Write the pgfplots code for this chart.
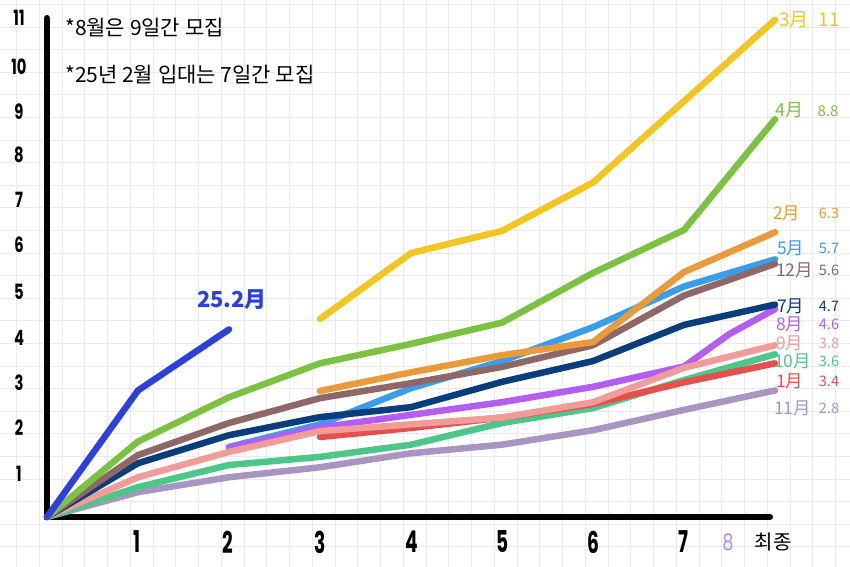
\documentclass[border=0pt]{standalone}
\usepackage{fontspec}
\setmainfont{Noto Sans CJK KR}
\newfontfamily\kr{Noto Sans CJK KR}
\newfontfamily\hand{Poppins}
\usepackage{graphicx}
\usepackage{pgfplots}
\pgfplotsset{compat=1.18}
\definecolor{cYellow}{HTML}{F2C520}
\definecolor{cGreen}{HTML}{7CC242}
\definecolor{cOrange}{HTML}{EA9A3A}
\definecolor{cLBlue}{HTML}{3A9DEA}
\definecolor{cBrown}{HTML}{8E6767}
\definecolor{cNavy}{HTML}{0A3D7C}
\definecolor{cPurple}{HTML}{B55CF2}
\definecolor{cPink}{HTML}{F29C9A}
\definecolor{cRed}{HTML}{E84E4B}
\definecolor{cTeal}{HTML}{4DC68A}
\definecolor{cLilac}{HTML}{A995C2}
\definecolor{cBlue}{HTML}{2E3FE0}
\definecolor{cLight8}{HTML}{B58AE8}
\newcommand\px[2]{([xshift=#1pt,yshift=-#2pt]ax.north west)}
\begin{document}
\begin{tikzpicture}
\begin{axis}[name=ax, width=850pt, height=567pt, scale only axis,
  xmin=-0.5165, xmax=8.824, ymin=-1.106, ymax=11.438,
  axis line style={draw=none}, major tick length=0pt,
  xtick={-0.335,-0.085,...,8.8}, ytick={-0.66,-0.16,...,11.4},
  xticklabels={}, yticklabels={},
  grid=major, grid style={draw=black!8, line width=0.9pt},
  clip=false,
  every axis plot/.append style={line width=6.5pt, line cap=round, line join=round, no markers}]
\draw[line width=6pt, line cap=round, line join=miter] (axis cs:0,11.04) -- (axis cs:0,0) -- (axis cs:7.945,0);
% 5월
\addplot[cLBlue] coordinates {(2,1.55) (3,2.05) (4,2.85) (5,3.45) (6,4.2) (7,5.1) (8,5.7)};
% 11월
\addplot[cLilac] coordinates {(0,0) (1,0.55) (2,0.88) (3,1.1) (4,1.41) (5,1.6) (6,1.92) (7,2.37) (8,2.8)};
% 10월
\addplot[cTeal] coordinates {(0,0) (1,0.66) (2,1.15) (3,1.33) (4,1.6) (5,2.08) (6,2.41) (7,3.03) (8,3.6)};
% 1월
\addplot[cRed] coordinates {(3,1.77) (4,1.97) (5,2.2) (6,2.5) (7,2.98) (8,3.4)};
% 8월
\addplot[cPurple] coordinates {(2,1.53) (3,1.98) (4,2.26) (5,2.54) (6,2.88) (7,3.33) (7.5,4.05) (8,4.6)};
% 9월
\addplot[cPink] coordinates {(0,0) (1,0.88) (2,1.44) (3,1.9) (4,2.05) (5,2.2) (6,2.54) (7,3.3) (8,3.8)};
% 7월
\addplot[cNavy] coordinates {(0,0) (1,1.19) (2,1.81) (3,2.21) (4,2.43) (5,2.99) (6,3.45) (7,4.25) (8,4.7)};
% 12월
\addplot[cBrown] coordinates {(0,0) (1,1.37) (2,2.08) (3,2.63) (4,2.96) (5,3.32) (6,3.8) (7,4.9) (8,5.6)};
% 2월
\addplot[cOrange] coordinates {(3,2.79) (4,3.2) (5,3.58) (6,3.87) (7,5.42) (8,6.3)};
% 4월
\addplot[cGreen] coordinates {(0,0) (1,1.67) (2,2.65) (3,3.4) (4,3.83) (5,4.3) (6,5.4) (7,6.35) (8,8.8)};
% 3월
\addplot[cYellow] coordinates {(3,4.38) (4,5.84) (5,6.33) (6,7.4) (7,9.2) (8,11)};
% 25.2월
\addplot[cBlue] coordinates {(0,0) (1,2.8) (2,4.15)};
\end{axis}
% y tick labels
\foreach \v/\y in {11/18,10/67,9/112,8/155,7/200,6/245,5/292,4/338,3/383,2/428,1/474}{
  \node[inner sep=0pt] at \px{19}{\y} {\scalebox{0.7}[1]{\hand\bfseries\fontsize{21pt}{21pt}\selectfont \v}};
}
% x tick labels
\foreach \v/\x in {1/137,2/228,3/320,4/412,5/503,6/593,7/683}{
  \node[inner sep=0pt] at \px{\x}{542} {\scalebox{0.62}[1]{\hand\bfseries\fontsize{30pt}{30pt}\selectfont \v}};
}
\node[inner sep=0pt, text=cLight8] at \px{728}{542} {\scalebox{0.75}[1]{\hand\fontsize{23pt}{23pt}\selectfont 8}};
\node[inner sep=0pt] at \px{773}{542} {\kr\fontsize{20pt}{20pt}\selectfont 최종};
% notes
\node[inner sep=0pt, anchor=west] at \px{65}{28} {\kr\fontsize{21pt}{21pt}\selectfont *8월은 9일간 모집};
\node[inner sep=0pt, anchor=west] at \px{65}{75} {\kr\fontsize{21pt}{21pt}\selectfont *25년 2월 입대는 7일간 모집};
\node[inner sep=0pt, text=cBlue] at \px{232}{300} {\kr\bfseries\fontsize{22pt}{22pt}\selectfont 25.2月};
% series labels
\node[inner sep=0pt, anchor=west, text=cYellow] at \px{779}{20} {\kr\fontsize{19pt}{19pt}\selectfont 3月};
\node[inner sep=0pt, text=cYellow] at \px{829}{20} {\kr\fontsize{19pt}{19pt}\selectfont 11};
\node[inner sep=0pt, anchor=west, text=cGreen] at \px{775}{110} {\kr\fontsize{18pt}{18pt}\selectfont 4月};
\node[inner sep=0pt, text=cGreen] at \px{828}{111} {\kr\fontsize{15pt}{15pt}\selectfont 8.8};
\foreach \m/\vv/\y/\c/\xm in {2月/6.3/213/cOrange/773, 5月/5.7/248/cLBlue/777, 12月/5.6/270/cBrown/776, 7月/4.7/306/cNavy/777, 8月/4.6/324/cPurple/776, 9月/3.8/343/cPink/776, 10月/3.6/361/cTeal/774, 1月/3.4/381/cRed/776, 11月/2.8/408/cLilac/774}{
  \node[inner sep=0pt, anchor=west, text=\c] at \px{\xm}{\y} {\kr\fontsize{17.5pt}{17.5pt}\selectfont \m};
  \node[inner sep=0pt, text=\c] at \px{829}{\y} {\kr\fontsize{14.5pt}{14.5pt}\selectfont \vv};
}
\pgfresetboundingbox
\path[use as bounding box] (ax.south west) rectangle (ax.north east);
\end{tikzpicture}
\end{document}
